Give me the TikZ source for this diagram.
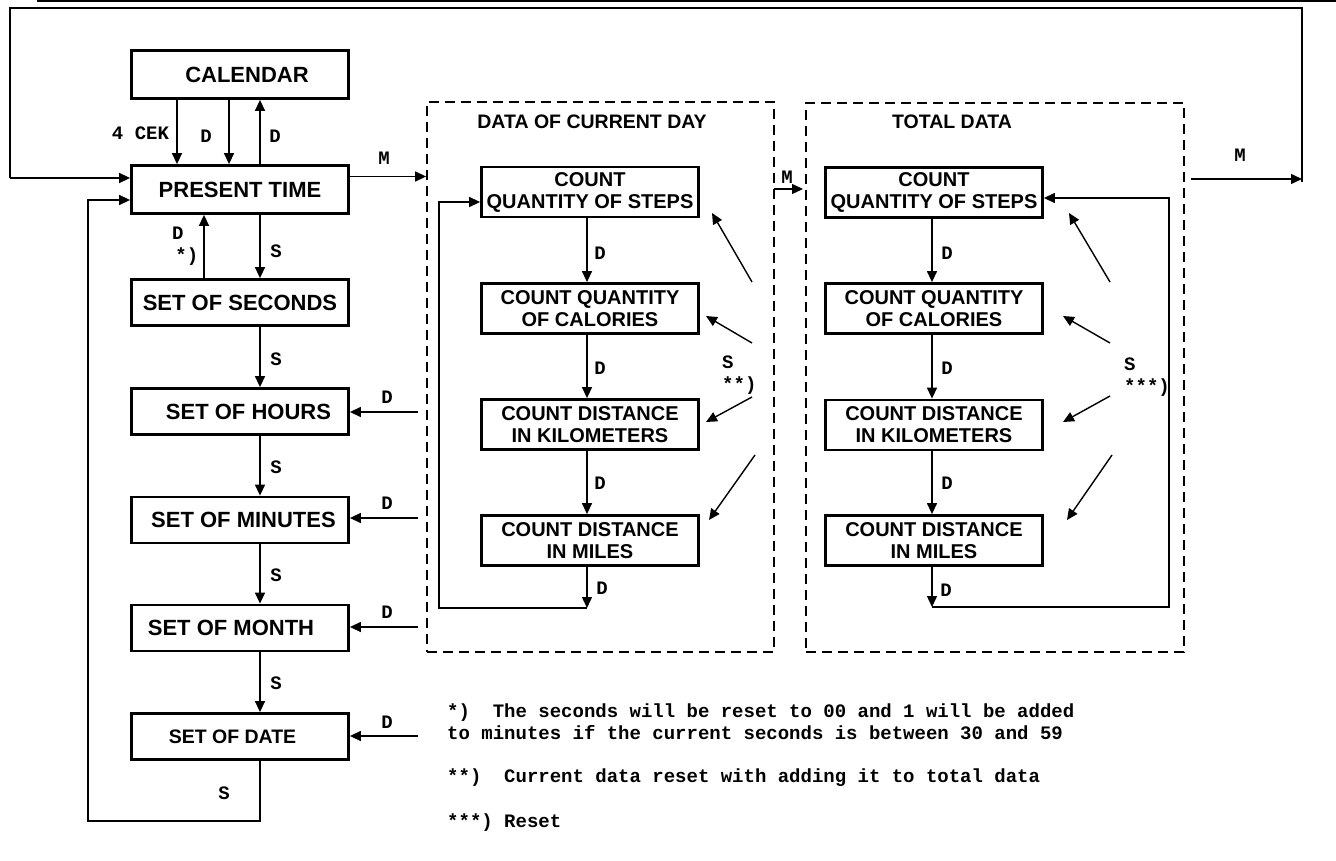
\documentclass[tikz,border=0pt]{standalone}
\usepackage{fontspec}
\setmainfont{Liberation Sans}
\newfontfamily\monofnt{Liberation Mono}
\usetikzlibrary{arrows.meta,calc}
\tikzset{
  box/.style={draw, line width=2.8pt, minimum width=217pt, minimum height=46pt, inner sep=0pt, align=center, font=\bfseries\fontsize{22}{24}\selectfont},
  cbox/.style={box, minimum height=50pt, font=\bfseries\fontsize{20}{22}\selectfont},
  arr/.style={line width=1.4pt, -{Triangle[length=11pt,width=10pt]}},
  conn/.style={line width=1.4pt},
  lbl/.style={inner sep=0pt, align=left, font=\monofnt\bfseries\fontsize{19}{22}\selectfont},
  grp/.style={draw, line width=1.8pt, dash pattern=on 10pt off 6pt, inner sep=0pt},
  ttl/.style={inner sep=0pt, font=\bfseries\fontsize{19.5}{22}\selectfont},
  note/.style={inner sep=0pt, anchor=west, align=left, font=\monofnt\bfseries\fontsize{19}{22}\selectfont}
}
\begin{document}
\begin{tikzpicture}[x=1pt,y=-1pt]
\useasboundingbox (0,0) rectangle (1336,861);
\fill (37,0) rectangle (1336,2.5);

% left column
\node[box, minimum height=48pt] (cal) at (240,74.5) {\hspace*{14pt}CALENDAR};
\node[box, minimum height=48pt] (pt) at (240,189.5) {PRESENT TIME};
\node[box] (sec) at (240,302.5) {SET OF SECONDS};
\node[box] (hrs) at (240,411.5) {\hspace*{17pt}SET OF HOURS};
\node[box] (min) at (240,520) {\hspace*{7pt}SET OF MINUTES};
\node[box] (mon) at (240,628) {SET OF MONTH\hspace*{18pt}};
\node[box, font=\bfseries\fontsize{19.5}{22}\selectfont] (date) at (240,736.5) {SET OF DATE\hspace*{15pt}};

% groups
\node[grp, minimum width=347pt, minimum height=550pt] (g1) at (600.5,377) {};
\node[grp, minimum width=378pt, minimum height=549pt] (g2) at (995,377.5) {};
\node[ttl] (t1) at (592,122) {DATA OF CURRENT DAY};
\node[ttl] (t2) at (952,122) {TOTAL DATA};

% current-day boxes
\node[cbox] (s1) at (590,192) {COUNT\\QUANTITY OF STEPS};
\node[cbox] (c1) at (590,308.5) {COUNT QUANTITY\\OF CALORIES};
\node[cbox] (k1) at (590,424.5) {COUNT DISTANCE\\IN KILOMETERS};
\node[cbox] (m1) at (590,540.5) {COUNT DISTANCE\\IN MILES};

% total boxes
\node[cbox] (s2) at (934,192.5) {COUNT\\QUANTITY OF STEPS};
\node[cbox] (c2) at (934,308.5) {COUNT QUANTITY\\OF CALORIES};
\node[cbox] (k2) at (934,425) {COUNT DISTANCE\\IN KILOMETERS};
\node[cbox] (m2) at (934,540.5) {COUNT DISTANCE\\IN MILES};

% calendar <-> present time
\draw[arr] ([xshift=-63pt]cal.south) -- ([xshift=-63pt]pt.north);
\draw[arr] ([xshift=-11pt]cal.south) -- ([xshift=-11pt]pt.north);
\draw[arr] ([xshift=20pt]pt.north) -- ([xshift=20pt]cal.south);
\node[lbl] (l4cek) at (140.5,133) {4 CEK};
\node[lbl] (lcd1) at (206,136) {D};
\node[lbl] (lcd2) at (275,136) {D};

% present time <-> seconds
\draw[arr] ([xshift=20pt]pt.south) -- ([xshift=20pt]sec.north);
\draw[arr] ([xshift=-36pt]sec.north) -- ([xshift=-36pt]pt.south);
\node[lbl] (lps) at (276,251) {S};
\node[lbl, anchor=west] (lpd) at (172,246) {D\\\,*)};

% S chain
\draw[arr] ([xshift=20pt]sec.south) -- ([xshift=20pt]hrs.north);
\draw[arr] ([xshift=20pt]hrs.south) -- ([xshift=20pt]min.north);
\draw[arr] ([xshift=20pt]min.south) -- ([xshift=20pt]mon.north);
\draw[arr] ([xshift=20pt]mon.south) -- ([xshift=20pt]date.north);
\node[lbl] (ls1) at (276,359) {S};
\node[lbl] (ls2) at (276,467) {S};
\node[lbl] (ls3) at (276,575) {S};
\node[lbl] (ls4) at (276,683) {S};

% return loop from date
\coordinate (lp0) at (260,821);
\coordinate (lpL) at (88,200);
\draw[arr] ([xshift=20pt]date.south) -- (lp0) -| (lpL) -- (lpL -| pt.west);
\node[lbl] (ls5) at (224,793) {S};

% outer loop
\coordinate (mS) at (1191,179);
\coordinate (oR) at (1302,179);
\coordinate (oTR) at (1302,8);
\coordinate (oTL) at (10,8);
\coordinate (oL) at (10,178);
\draw[arr] (mS) -- (oR);
\draw[conn] ([yshift=-3pt]oR) -- (oTR) -- (oTL) -- (oL);
\draw[arr] (oL) -- (oL -| pt.west);
\node[lbl] (lmR) at (1240,155) {M};

% M from present time to current-day group
\coordinate (mP) at ([yshift=13pt]pt.east);
\draw[arr] (mP) -- (mP -| g1.west);
\node[lbl] (lmP) at (384,158) {M};

% M between groups
\coordinate (mA) at (774,189);
\draw[arr] (mA) -- (803,189);
\node[lbl] (lmA) at (787,177) {M};

% D arrows into set boxes
\coordinate (dh) at (418,412);
\coordinate (dm) at (418,518);
\coordinate (dn) at (418,627);
\coordinate (dd) at (418,736);
\draw[arr] (dh) -- (dh -| hrs.east);
\draw[arr] (dm) -- (dm -| min.east);
\draw[arr] (dn) -- (dn -| mon.east);
\draw[arr] (dd) -- (dd -| date.east);
\node[lbl] (ldh) at (387,397) {D};
\node[lbl] (ldm) at (387,503) {D};
\node[lbl] (ldn) at (387,612) {D};
\node[lbl] (ldd) at (387,722) {D};

% current day chain
\draw[arr] ([xshift=-3pt]s1.south) -- ([xshift=-3pt]c1.north);
\draw[arr] ([xshift=-3pt]c1.south) -- ([xshift=-3pt]k1.north);
\draw[arr] ([xshift=-3pt]k1.south) -- ([xshift=-3pt]m1.north);
\node[lbl] (la1) at (600,253) {D};
\node[lbl] (la2) at (600,368) {D};
\node[lbl] (la3) at (600,483) {D};
\coordinate (lp1) at (587,608);
\coordinate (lp1b) at (439,202);
\draw[arr] ([xshift=-3pt]m1.south) -- (lp1);
\draw[arr] (lp1) -| (lp1b) -- (lp1b -| s1.west);
\node[lbl] (la4) at (602,588) {D};

% current day diagonals
\coordinate (e1a) at (752,282); \coordinate (e1b) at (712,213);
\coordinate (e2a) at (752,343); \coordinate (e2b) at (706,316);
\coordinate (e3a) at (752,397); \coordinate (e3b) at (706,422);
\coordinate (e4a) at (755,455); \coordinate (e4b) at (709,520);
\draw[arr] (e1a) -- (e1b);
\draw[arr] (e2a) -- (e2b);
\draw[arr] (e3a) -- (e3b);
\draw[arr] (e4a) -- (e4b);
\node[lbl, anchor=west] (lsA) at (722,375) {S\\**)};

% total chain
\draw[arr] ([xshift=-2pt]s2.south) -- ([xshift=-2pt]c2.north);
\draw[arr] ([xshift=-2pt]c2.south) -- ([xshift=-2pt]k2.north);
\draw[arr] ([xshift=-2pt]k2.south) -- ([xshift=-2pt]m2.north);
\node[lbl] (lb1) at (947,253) {D};
\node[lbl] (lb2) at (947,368) {D};
\node[lbl] (lb3) at (947,483) {D};
\coordinate (lp2) at (932,607);
\coordinate (lp2b) at (1169,198);
\draw[arr] ([xshift=-2pt]m2.south) -- (lp2);
\draw[arr] (lp2) -| (lp2b) -- (lp2b -| s2.east);
\node[lbl] (lb4) at (946,590) {D};

% total diagonals
\coordinate (f1a) at (1110,282); \coordinate (f1b) at (1069,213);
\coordinate (f2a) at (1110,343); \coordinate (f2b) at (1063,316);
\coordinate (f3a) at (1110,396); \coordinate (f3b) at (1063,422);
\coordinate (f4a) at (1112,455); \coordinate (f4b) at (1067,520);
\draw[arr] (f1a) -- (f1b);
\draw[arr] (f2a) -- (f2b);
\draw[arr] (f3a) -- (f3b);
\draw[arr] (f4a) -- (f4b);
\node[lbl, anchor=west] (lsB) at (1124,377) {S\\***)};

% footnotes
\node[note] (n1) at (447,722) {*)\ \ The seconds will be reset to 00 and 1 will be added\\to minutes if the current seconds is between 30 and 59};
\node[note] (n2) at (447,778) {**)\ \ Current data reset with adding it to total data};
\node[note] (n3) at (447,823) {***)\ Reset};
\end{tikzpicture}
\end{document}
